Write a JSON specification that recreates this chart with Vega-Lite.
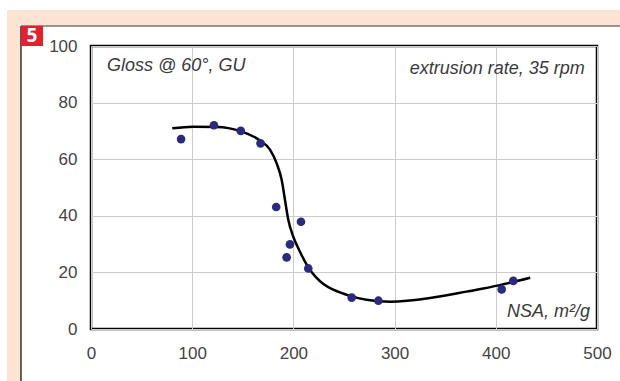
{
  "$schema": "https://vega.github.io/schema/vega-lite/v6.json",
  "width": 506,
  "height": 283,
  "autosize": {"type": "none"},
  "padding": {"left": 91, "top": 46, "right": 23, "bottom": 52},
  "background": "white",
  "config": {
    "view": {"stroke": "black", "strokeWidth": 2.5},
    "font": "Liberation Sans"
  },
  "datasets": {
    "points": [
      {"nsa": 89, "gloss": 67.1},
      {"nsa": 121.5, "gloss": 72},
      {"nsa": 148, "gloss": 70},
      {"nsa": 167.5, "gloss": 65.6},
      {"nsa": 183, "gloss": 43.1},
      {"nsa": 193.3, "gloss": 25.3},
      {"nsa": 196.6, "gloss": 29.9},
      {"nsa": 207.5, "gloss": 37.9},
      {"nsa": 214.7, "gloss": 21.4},
      {"nsa": 257.6, "gloss": 11.1},
      {"nsa": 284, "gloss": 10},
      {"nsa": 405.8, "gloss": 14},
      {"nsa": 417.3, "gloss": 17}
    ],
    "curve": [
      {"nsa": 80.3, "gloss": 70.9},
      {"nsa": 101, "gloss": 71.5},
      {"nsa": 124, "gloss": 71.4},
      {"nsa": 147, "gloss": 70.0},
      {"nsa": 167, "gloss": 66.6},
      {"nsa": 177, "gloss": 63.3},
      {"nsa": 183.5, "gloss": 58.5},
      {"nsa": 188.4, "gloss": 52.7},
      {"nsa": 191.7, "gloss": 45.6},
      {"nsa": 195, "gloss": 38.5},
      {"nsa": 200, "gloss": 32.5},
      {"nsa": 206.5, "gloss": 27.3},
      {"nsa": 214.7, "gloss": 21.8},
      {"nsa": 222, "gloss": 18.4},
      {"nsa": 230, "gloss": 15.8},
      {"nsa": 240, "gloss": 13.8},
      {"nsa": 256, "gloss": 11.7},
      {"nsa": 272, "gloss": 10.3},
      {"nsa": 296, "gloss": 9.6},
      {"nsa": 338, "gloss": 11.1},
      {"nsa": 371, "gloss": 13.2},
      {"nsa": 404, "gloss": 15.5},
      {"nsa": 434, "gloss": 18.1}
    ],
    "frame": [
      {"x": -83, "x2": -69.2, "y": -20, "y2": 112.7},
      {"x": -83, "x2": 530, "y": 107.1, "y2": 112.7}
    ],
    "badge": [{"x": -69.2, "x2": -47.4, "y": 100, "y2": 107.1, "label": "5"}],
    "notes": [
      {"nsa": 15.8, "gloss": 91.3, "label": "Gloss @ 60°, GU", "side": "left"},
      {"nsa": 488, "gloss": 90.1, "label": "extrusion rate, 35 rpm", "side": "right"},
      {"nsa": 493, "gloss": 4.1, "label": "NSA, m²/g", "side": "right"}
    ]
  },
  "layer": [
    {
      "data": {"name": "frame"},
      "mark": {"type": "rect", "color": "#fde3d3"},
      "encoding": {
        "x": {"field": "x", "type": "quantitative", "scale": {"domain": [0, 500], "nice": false}},
        "x2": {"field": "x2"},
        "y": {"field": "y", "type": "quantitative", "scale": {"domain": [0, 100], "nice": false}},
        "y2": {"field": "y2"}
      }
    },
    {
      "data": {"values": [{"x": -69.2, "x2": 530, "y": -20, "y2": 107.1}]},
      "mark": {"type": "rule", "color": "#333333", "strokeWidth": 1.5},
      "encoding": {
        "x": {"field": "x", "type": "quantitative"},
        "y": {"field": "y", "type": "quantitative"},
        "y2": {"field": "y2"}
      }
    },
    {
      "data": {"values": [{"x": -69.2, "x2": 530, "y": 107.1}]},
      "mark": {"type": "rule", "color": "#777777", "strokeWidth": 1.5},
      "encoding": {
        "x": {"field": "x", "type": "quantitative"},
        "x2": {"field": "x2"},
        "y": {"field": "y", "type": "quantitative"}
      }
    },
    {
      "data": {"name": "badge"},
      "mark": {"type": "rect", "color": "#e5202e"},
      "encoding": {
        "x": {"field": "x", "type": "quantitative"},
        "x2": {"field": "x2"},
        "y": {"field": "y", "type": "quantitative"},
        "y2": {"field": "y2"}
      }
    },
    {
      "data": {"values": [{"x": -58.3, "y": 103.55, "label": "5"}]},
      "mark": {"type": "text", "color": "white", "fontWeight": "bold", "fontSize": 19, "font": "Open Sans", "baseline": "middle", "align": "center"},
      "encoding": {
        "x": {"field": "x", "type": "quantitative"},
        "y": {"field": "y", "type": "quantitative"},
        "text": {"field": "label"}
      }
    },
    {
      "data": {"name": "curve"},
      "mark": {"type": "line", "color": "black", "strokeWidth": 2.5, "interpolate": "monotone"},
      "encoding": {
        "x": {"field": "nsa", "type": "quantitative",
          "axis": {"title": null, "values": [0, 100, 200, 300, 400, 500], "grid": true, "gridColor": "#cccccc", "gridWidth": 1, "domain": false, "ticks": false, "labelFontSize": 17, "labelColor": "#444444", "labelPadding": 16, "labelFlush": false}},
        "y": {"field": "gloss", "type": "quantitative",
          "axis": {"title": null, "values": [0, 20, 40, 60, 80, 100], "grid": true, "gridColor": "#cccccc", "gridWidth": 1, "domain": false, "ticks": false, "labelFontSize": 17, "labelColor": "#444444", "labelPadding": 14, "labelFlush": false}}
      }
    },
    {
      "data": {"name": "points"},
      "mark": {"type": "circle", "color": "#2c2a7c", "opacity": 1, "size": 75},
      "encoding": {
        "x": {"field": "nsa", "type": "quantitative"},
        "y": {"field": "gloss", "type": "quantitative"}
      }
    },
    {
      "data": {"name": "notes"},
      "transform": [{"filter": "datum.side == 'left'"}],
      "mark": {"type": "text", "align": "left", "baseline": "alphabetic", "fontStyle": "italic", "fontSize": 18, "color": "#3a3a3a"},
      "encoding": {
        "x": {"field": "nsa", "type": "quantitative"},
        "y": {"field": "gloss", "type": "quantitative"},
        "text": {"field": "label"}
      }
    },
    {
      "data": {"name": "notes"},
      "transform": [{"filter": "datum.side == 'right'"}],
      "mark": {"type": "text", "align": "right", "baseline": "alphabetic", "fontStyle": "italic", "fontSize": 18, "color": "#3a3a3a"},
      "encoding": {
        "x": {"field": "nsa", "type": "quantitative"},
        "y": {"field": "gloss", "type": "quantitative"},
        "text": {"field": "label"}
      }
    }
  ]
}
